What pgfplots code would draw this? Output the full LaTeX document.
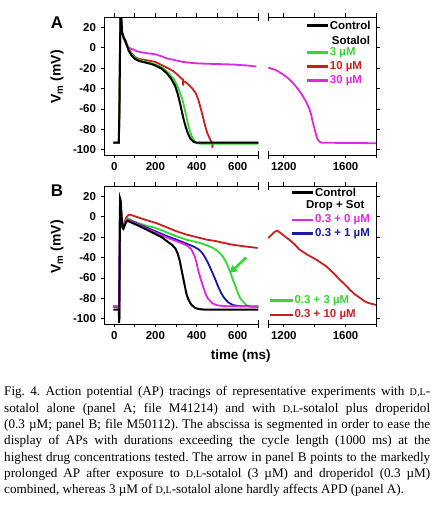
\documentclass[border=0pt]{standalone}
\usepackage{fontspec}
\setmainfont{Liberation Serif}
\setsansfont{Liberation Sans}
\usepackage{pgfplots}
\pgfplotsset{compat=1.18}
\usetikzlibrary{arrows.meta}
\definecolor{cgreen}{RGB}{50,215,50}
\definecolor{cred}{RGB}{205,30,30}
\definecolor{cmag}{RGB}{225,40,225}
\definecolor{cblue}{RGB}{25,25,165}
\newcommand{\DL}{{\fontsize{10.2}{10}\selectfont D,L}}
\pgfplotsset{
  myax/.style={
    scale only axis, height=138bp, ymin=-105, ymax=30,
    ytick={-100,-80,-60,-40,-20,0,20},
    tick align=outside,
    major tick length=3.5bp, minor tick length=3.5bp,
    tick style={black, line width=0.8bp},
    axis line style={draw=none},
    ticklabel style={font=\fontsize{11.5}{12}\selectfont\sffamily\bfseries},
    /pgf/number format/assume math mode=true,
    clip=false,
    every axis plot/.append style={line width=1.8bp, no markers},
  },
  leftax/.style={myax, width=154.3bp, xmin=-50, xmax=700,
    xtick={0,200,400,600}, xticklabels={0,200,400,600},
    minor xtick={100,300,500,700},
    ytick pos=left, yticklabels={-100,-80,-60,-40,-20,0,20},
    yticklabel style={xshift=-1bp}},
  rightax/.style={myax, width=108.2bp, xmin=1100, xmax=1800,
    xtick={1200,1600}, xticklabels={1200,1600},
    minor xtick={1400,1800},
    ytick pos=right, yticklabels={}},
}
\newcommand{\leftspine}{%
  \draw[line width=0.8bp] (rel axis cs:1,0) -- (rel axis cs:0,0) -- (rel axis cs:0,1) -- (rel axis cs:1,1);
  \draw[line width=0.8bp] ([yshift=-4bp]rel axis cs:1,1) -- ([yshift=4bp]rel axis cs:1,1);
  \draw[line width=0.8bp] ([yshift=-4bp]rel axis cs:1,0) -- ([yshift=4bp]rel axis cs:1,0);}
\newcommand{\rightspine}{%
  \draw[line width=0.8bp] (rel axis cs:0,0) -- (rel axis cs:1,0) -- (rel axis cs:1,1) -- (rel axis cs:0,1);
  \draw[line width=0.8bp] ([yshift=-4bp]rel axis cs:0,1) -- ([yshift=4bp]rel axis cs:0,1);
  \draw[line width=0.8bp] ([yshift=-4bp]rel axis cs:0,0) -- ([yshift=4bp]rel axis cs:0,0);}
\begin{document}
\begin{tikzpicture}[x=1bp,y=1bp]
\useasboundingbox (0,0) rectangle (435,506);
% ---------------- Panel A left
\begin{axis}[leftax, at={(104bp,351bp)}, anchor=south west]
\addplot[cmag] coordinates {(-5,-93) (22,-93) (25,-60) (28,0) (30,28) (34,28) (38,15) (45,10) (53,5) (65,1) (80,-1) (95,-2) (110,-3.5) (130,-4.5) (160,-5.5) (200,-6.5) (230,-8.5) (256,-10.5) (300,-12.5) (334,-14) (380,-15) (414,-15.5) (494,-16) (575,-16.5) (650,-17.5) (690,-18.5)};
\addplot[cred] coordinates {(-5,-93) (22,-93) (25,-60) (28,0) (30,28) (34,28) (38,15) (45,11) (55,7) (70,-1) (85,-6) (100,-9) (120,-11) (150,-12) (200,-14) (230,-17) (260,-20) (287,-23) (310,-27) (328,-30.5) (334,-31) (334,-37) (336,-33) (345,-33.5) (360,-36) (380,-40) (397,-45) (410,-52) (421,-60) (430,-67) (437,-73) (445,-79) (453,-84) (462,-88) (470,-91.5) (476,-94) (477,-98) (479,-93) (700,-93)};
\addplot[cgreen] coordinates {(-5,-93) (22,-93) (25,-60) (28,0) (30,28) (34,28) (38,14) (45,10) (55,6) (70,-2) (85,-7) (100,-10) (120,-12) (150,-13.5) (200,-16.5) (230,-19) (260,-24) (290,-31) (312,-40) (330,-50) (342,-60) (353,-70) (362,-78) (375,-86) (388,-91) (402,-93.5) (420,-94) (700,-94)};
\addplot[black, line width=2bp] coordinates {(-5,-93) (22,-93) (25,-60) (28,0) (30,29) (34,29) (38,15) (45,10) (55,6) (70,-3) (85,-8) (100,-11) (120,-13) (150,-14.5) (180,-16) (200,-17.5) (230,-20.5) (255,-25) (275,-30) (295,-37) (308,-45) (318,-53) (328,-62) (338,-71) (348,-78) (358,-84) (370,-89) (385,-92) (400,-93) (700,-93)};
\leftspine
\end{axis}
% ---------------- Panel A right
\begin{axis}[rightax, at={(268.3bp,351bp)}, anchor=south west]
\addplot[cmag] coordinates {(1100,-19.5) (1150,-22) (1191,-25.8) (1225,-29.5) (1256,-34) (1290,-40) (1322,-47) (1345,-53) (1366,-60) (1378,-66) (1388,-73) (1400,-80) (1410,-86) (1420,-90) (1431,-92) (1445,-93) (1800,-93.5)};
\rightspine
\end{axis}
% ---------------- Panel B left
\begin{axis}[leftax, at={(104bp,182bp)}, anchor=south west]
\addplot[cred] coordinates {(-5,-88) (22,-88) (24,-100) (26,-40) (28,16) (31,14) (35,0) (40,-9) (44,-10) (50,-5) (58,-1) (68,1.5) (77,2) (90,1) (120,-1) (150,-3) (200,-6) (250,-10) (302,-14.3) (350,-17.5) (415,-20.8) (450,-22.5) (496,-24) (540,-26) (576,-27.5) (630,-29) (697,-30.6)};
\addplot[cgreen] coordinates {(-5,-88) (22,-88) (24,-100) (26,-40) (28,16) (31,14) (35,0) (40,-10) (44,-11) (50,-7) (58,-3) (68,-2) (80,-3) (92,-4.5) (120,-6.5) (150,-8.5) (200,-11) (250,-15) (302,-19.2) (350,-22.5) (415,-25.7) (450,-28) (480,-30.6) (505,-34) (528,-39) (542,-44) (553,-49) (565,-55) (577,-62) (589,-68) (601,-75) (613,-80) (625,-83) (637,-85.5) (649,-87.5) (670,-88) (700,-88)};
\addplot[cblue] coordinates {(-5,-88) (22,-88) (24,-100) (26,-40) (28,16) (31,14) (35,0) (40,-10) (44,-11) (50,-8) (58,-4) (65,-3) (75,-3.5) (92,-5) (120,-7.5) (150,-10) (200,-14.3) (250,-18.5) (302,-22.5) (340,-25.5) (383,-29) (410,-32) (425,-35) (439,-39) (455,-45) (471,-52) (488,-60) (504,-68) (520,-75) (536,-80) (555,-84) (577,-86.5) (610,-87.5) (700,-88)};
\addplot[cmag] coordinates {(-5,-88) (22,-88) (24,-100) (26,-40) (28,16) (31,14) (35,0) (40,-10) (44,-11) (50,-8) (58,-4) (65,-3) (75,-4) (92,-5.5) (120,-8) (150,-11) (200,-15.5) (250,-20) (302,-24) (335,-26.5) (359,-29) (375,-32) (391,-39) (400,-45) (407,-52) (420,-61) (431,-68) (443,-75) (455,-80) (475,-84.5) (496,-86.5) (530,-87.5) (700,-88)};
\addplot[black, line width=2bp] coordinates {(-5,-91) (22,-91) (24,-104) (26,-40) (28,18) (31,16) (35,0) (40,-11) (44,-12) (50,-9) (58,-5) (65,-4) (75,-5) (92,-6.5) (120,-9) (150,-12) (200,-17) (230,-20) (256,-24) (280,-27.5) (297,-31) (308,-36) (318,-43) (326,-51) (334,-59) (342,-67) (350,-75) (360,-81) (374,-86) (395,-89.5) (415,-90.5) (440,-91) (700,-91)};
\draw[cgreen, line width=2.6bp, -{Triangle[length=7bp,width=8bp]}] (axis cs:641,-40) -- (axis cs:562,-55);
\leftspine
\end{axis}
% ---------------- Panel B right
\begin{axis}[rightax, at={(268.3bp,182bp)}, anchor=south west]
\addplot[cred] coordinates {(1100,-21) (1120,-18) (1140,-15) (1158,-13.6) (1175,-15.5) (1200,-18.5) (1235,-22.5) (1270,-27) (1300,-32) (1350,-37) (1410,-42) (1475,-48.6) (1520,-55) (1563,-61.7) (1600,-67) (1628,-71.5) (1660,-76) (1694,-79.6) (1720,-82.5) (1748,-84.5) (1775,-85.5) (1800,-86.5)};
\rightspine
\end{axis}
% ---------------- labels
\begin{scope}[font=\sffamily\bfseries]
\node[font=\fontsize{17}{17}\selectfont\sffamily\bfseries] at (57,483) {A};
\node[font=\fontsize{17}{17}\selectfont\sffamily\bfseries] at (57,315.3) {B};
\node[rotate=90, font=\fontsize{14}{14}\selectfont\sffamily\bfseries] at (57,429) {V\textsubscript{m} (mV)};
\node[rotate=90, font=\fontsize{14}{14}\selectfont\sffamily\bfseries] at (57,259) {V\textsubscript{m} (mV)};
\node[font=\fontsize{13.5}{14}\selectfont\sffamily\bfseries] at (240.7,150) {time (ms)};
% legend A
\begin{scope}[font=\fontsize{11.5}{12}\selectfont\sffamily\bfseries, line width=2.8bp]
\draw[black] (306.7,480.3) -- (328,480.3); \node[anchor=west, inner sep=0.5bp] at (328,480.3) {Control};
\node[anchor=west, inner sep=0.5bp] at (330,466) {Sotalol};
\draw[cgreen] (306.7,453.3) -- (328,453.3); \node[anchor=west, inner sep=0.5bp, text=cgreen] at (328,453.3) {3 µM};
\draw[cred] (306.7,439.3) -- (328,439.3); \node[anchor=west, inner sep=0.5bp, text=cred] at (328,439.3) {10 µM};
\draw[cmag] (306.7,425.3) -- (328,425.3); \node[anchor=west, inner sep=0.5bp, text=cmag] at (328,425.3) {30 µM};
% legend B
\draw[black] (291.7,313.3) -- (313.3,313.3); \node[anchor=west, inner sep=0.5bp] at (313.3,313.3) {Control};
\node[anchor=west, inner sep=0.5bp] at (304.3,300.3) {Drop + Sot};
\draw[cmag] (291.7,286) -- (313.3,286); \node[anchor=west, inner sep=0.5bp, text=cmag] at (313.3,286) {0.3 + 0 µM};
\draw[cblue] (291.7,272.7) -- (313.3,272.7); \node[anchor=west, inner sep=0.5bp, text=cblue] at (313.3,272.7) {0.3 + 1 µM};
\draw[cgreen] (270,205.3) -- (292.7,205.3); \node[anchor=west, inner sep=0.5bp, text=cgreen] at (292.7,205.3) {0.3 + 3 µM};
\draw[cred] (270,191) -- (292.7,191); \node[anchor=west, inner sep=0.5bp, text=cred] at (292.7,191) {0.3 + 10 µM};
\end{scope}
\end{scope}
% ---------------- caption
\node[anchor=base west, text width=426bp, align=justify, inner sep=0pt,
      font=\fontsize{13.2}{16.33}\selectfont] at (4,110)
{\frenchspacing Fig. 4. Action potential (AP) tracings of representative experiments with \DL-\linebreak
sotalol alone (panel A; file M41214) and with \DL-sotalol plus droperidol\linebreak
(0.3 µM; panel B; file M50112). The abscissa is segmented in order to ease the\linebreak
display of APs with durations exceeding the cycle length (1000 ms) at the\linebreak
highest drug concentrations tested. The arrow in panel B points to the markedly\linebreak
prolonged AP after exposure to \DL-sotalol (3 µM) and droperidol (0.3 µM)\linebreak
combined, whereas 3 µM of \DL-sotalol alone hardly affects APD (panel A).\par};
\end{tikzpicture}
\end{document}
